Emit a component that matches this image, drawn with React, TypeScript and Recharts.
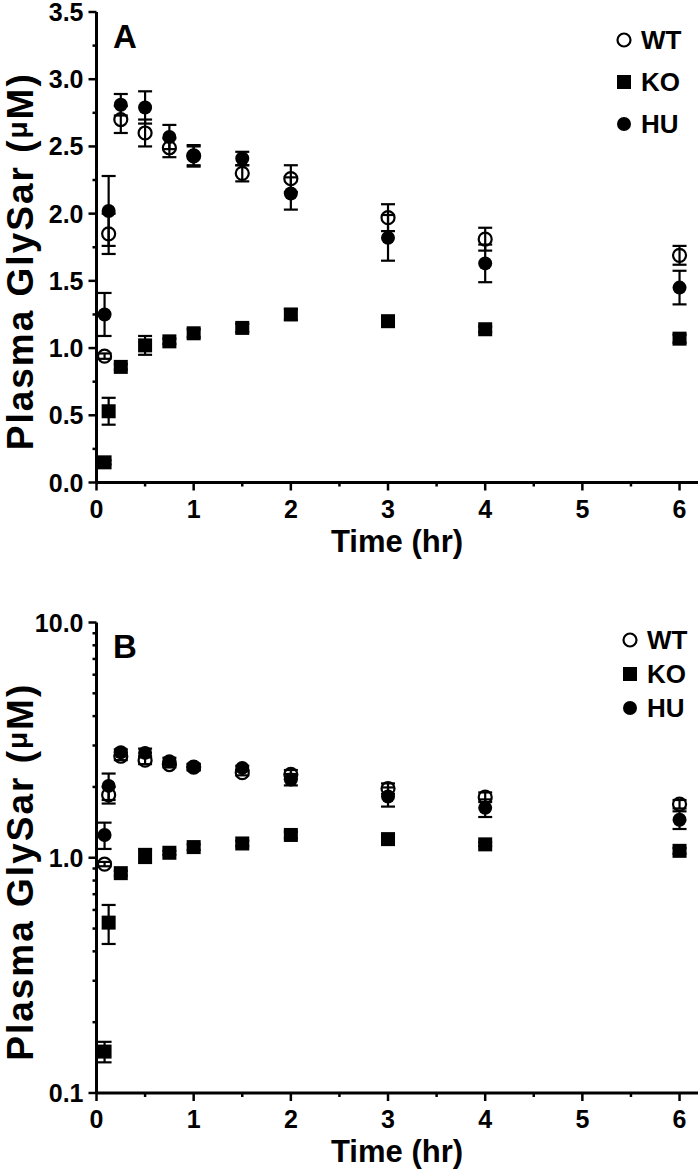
import React from 'react';
import { ScatterChart, Scatter, XAxis, YAxis, ErrorBar } from 'recharts';

// sampling times (hr) and plasma GlySar (uM), mean and SE per group
const TIME_HR = [0.083, 0.125, 0.25, 0.5, 0.75, 1, 1.5, 2, 3, 4, 6];
const WT_MEAN = [0.94, 1.85, 2.7, 2.6, 2.49, 2.43, 2.3, 2.26, 1.97, 1.81, 1.69];
const WT_SEM = [0.02, 0.15, 0.1, 0.1, 0.07, 0.07, 0.06, 0.1, 0.1, 0.085, 0.07];
const KO_MEAN = [0.15, 0.53, 0.86, 1.02, 1.05, 1.11, 1.15, 1.25, 1.2, 1.14, 1.07];
const KO_SEM = [0.015, 0.1, 0.02, 0.07, 0.02, 0.03, 0.03, 0.04, 0.03, 0.02, 0.03];
const HU_MEAN = [1.25, 2.02, 2.81, 2.79, 2.57, 2.43, 2.41, 2.15, 1.82, 1.63, 1.45];
const HU_SEM = [0.16, 0.26, 0.08, 0.12, 0.09, 0.08, 0.05, 0.12, 0.17, 0.14, 0.125];

const X_TICKS = [0, 0.5, 1, 1.5, 2, 2.5, 3, 3.5, 4, 4.5, 5, 5.5, 6];
const Y_TICKS_LINEAR = [0, 0.25, 0.5, 0.75, 1, 1.25, 1.5, 1.75, 2, 2.25, 2.5, 2.75, 3, 3.25, 3.5];
const Y_TICKS_LOG = [0.1, 0.2, 0.3, 0.4, 0.5, 0.6, 0.7, 0.8, 0.9, 1, 2, 3, 4, 5, 6, 7, 8, 9, 10];
const LOG_LABELS: Record<number, string> = { 0.1: '0.1', 1: '1.0', 10: '10.0' };

const FONT = "'Liberation Sans', Arial, Helvetica, sans-serif";

const toPoints = (mean: number[], sem: number[]) =>
  TIME_HR.map((t, i) => ({ t, v: mean[i], err: sem[i] }));

const wtData = toPoints(WT_MEAN, WT_SEM);
const koData = toPoints(KO_MEAN, KO_SEM);
const huData = toPoints(HU_MEAN, HU_SEM);

const XTick = (props: any) => {
  const { x, y, payload } = props;
  const v = payload.value;
  const major = Number.isInteger(v);
  return (
    <g>
      <line x1={x} x2={x} y1={y} y2={y + (major ? 8 : 4)} stroke="#000" strokeWidth={2.5} />
      {major && (
        <text x={x} y={y + 35} textAnchor="middle" fontSize={25} fontWeight={700} fontFamily={FONT} fill="#000">
          {v}
        </text>
      )}
    </g>
  );
};

const makeYTick = (isMajor: (v: number) => boolean, fmt: (v: number) => string) => (props: any) => {
  const { x, y, payload } = props;
  const v = payload.value;
  const major = isMajor(v);
  return (
    <g>
      <line x1={x} x2={x - (major ? 8 : 4)} y1={y} y2={y} stroke="#000" strokeWidth={2.5} />
      {major && (
        <text x={x - 13} y={y + 9} textAnchor="end" fontSize={25} fontWeight={700} fontFamily={FONT} fill="#000">
          {fmt(v)}
        </text>
      )}
    </g>
  );
};

const LinearYTick = makeYTick(
  (v) => Math.abs(v * 2 - Math.round(v * 2)) < 1e-9,
  (v) => v.toFixed(1)
);
const LogYTick = makeYTick(
  (v) => LOG_LABELS[v] !== undefined,
  (v) => LOG_LABELS[v]
);

const OpenCircle = (p: any) => (
  <circle cx={p.cx} cy={p.cy} r={6.5} fill="none" stroke="#000" strokeWidth={2.2} />
);
const FilledSquare = (p: any) => <rect x={p.cx - 7} y={p.cy - 7} width={14} height={14} fill="#000" />;
const FilledCircle = (p: any) => <circle cx={p.cx} cy={p.cy} r={7} fill="#000" />;

const textStyle = { fontFamily: FONT, fontWeight: 700, fill: '#000' };

function Legend({ x, rows }: { x: number; rows: number[] }) {
  return (
    <g>
      <OpenCircle cx={x} cy={rows[0]} />
      <text x={x + 17} y={rows[0] + 9} fontSize={26} {...textStyle}>WT</text>
      <FilledSquare cx={x} cy={rows[1]} />
      <text x={x + 17} y={rows[1] + 9} fontSize={26} {...textStyle}>KO</text>
      <FilledCircle cx={x} cy={rows[2]} />
      <text x={x + 17} y={rows[2] + 9} fontSize={26} {...textStyle}>HU</text>
    </g>
  );
}

function Panel({ log }: { log: boolean }) {
  const top = log ? 37.5 : 12;
  const plotH = 470.5;
  const chartH = 585;
  const bottom = chartH - top - plotH - 47;
  const titleY = top + plotH / 2 + 14;
  return (
    <ScatterChart width={700} height={chartH} margin={{ top, right: 2, bottom, left: 36.5 }}>
      <XAxis
        type="number"
        dataKey="t"
        domain={[0, 6.19]}
        ticks={X_TICKS}
        interval={0}
        allowDataOverflow
        height={47}
        tickSize={0}
        tickMargin={0}
        tickLine={false}
        tick={<XTick />}
        axisLine={{ stroke: '#000', strokeWidth: 3 }}
      />
      {log ? (
        <YAxis
          type="number"
          dataKey="v"
          scale="log"
          domain={[0.1, 10]}
          ticks={Y_TICKS_LOG}
          interval={0}
          allowDataOverflow
          width={60}
          tickSize={0}
          tickMargin={0}
          tickLine={false}
          tick={<LogYTick />}
          axisLine={{ stroke: '#000', strokeWidth: 3 }}
        />
      ) : (
        <YAxis
          type="number"
          dataKey="v"
          domain={[0, 3.5]}
          ticks={Y_TICKS_LINEAR}
          interval={0}
          allowDataOverflow
          width={60}
          tickSize={0}
          tickMargin={0}
          tickLine={false}
          tick={<LinearYTick />}
          axisLine={{ stroke: '#000', strokeWidth: 3 }}
        />
      )}
      <Scatter name="WT" data={wtData} shape={OpenCircle} isAnimationActive={false}>
        <ErrorBar dataKey="err" direction="y" width={7} strokeWidth={2.2} stroke="#000" isAnimationActive={false} />
      </Scatter>
      <Scatter name="KO" data={koData} shape={FilledSquare} isAnimationActive={false}>
        <ErrorBar dataKey="err" direction="y" width={7} strokeWidth={2.2} stroke="#000" isAnimationActive={false} />
      </Scatter>
      <Scatter name="HU" data={huData} shape={FilledCircle} isAnimationActive={false}>
        <ErrorBar dataKey="err" direction="y" width={7} strokeWidth={2.2} stroke="#000" isAnimationActive={false} />
      </Scatter>
      <text x={113} y={top + (log ? 35.5 : 36)} fontSize={33} {...textStyle}>{log ? 'B' : 'A'}</text>
      <text x={397} y={top + plotH + 69} textAnchor="middle" fontSize={31} {...textStyle}>Time (hr)</text>
      <text
        transform={`translate(33, ${titleY}) rotate(-90)`}
        textAnchor="middle"
        fontSize={37}
        letterSpacing={2}
        {...textStyle}
      >
        Plasma GlySar (<tspan fontSize={28} dy={-6}>μ</tspan><tspan dy={6}>M)</tspan>
      </text>
      {log ? <Legend x={630} rows={[55, 89, 123]} /> : <Legend x={624} rows={[40, 82, 124]} />}
    </ScatterChart>
  );
}

export default function App() {
  return (
    <div style={{ position: 'absolute', left: 0, top: 0, width: 700, height: 1170, background: '#fff' }}>
      <Panel log={false} />
      <Panel log={true} />
    </div>
  );
}
